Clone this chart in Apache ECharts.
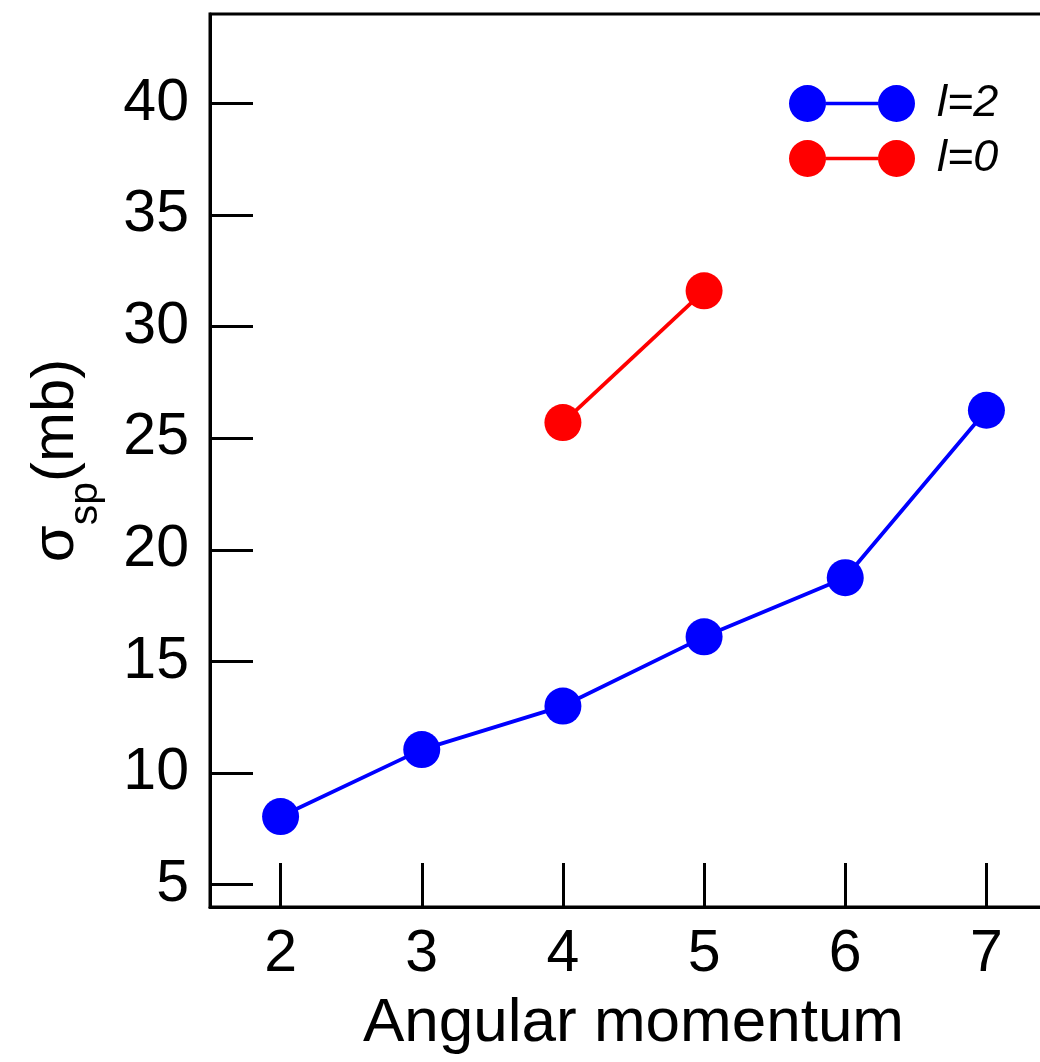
<!DOCTYPE html>
<html>
<head>
<meta charset="utf-8">
<script src="https://cdn.jsdelivr.net/npm/echarts@6/dist/echarts.min.js"></script>
<style>
  html, body { margin: 0; padding: 0; background: #fff; }
  #chart { width: 1040px; height: 1062px; }
</style>
</head>
<body>
<div id="chart"></div>
<script>
// Single-particle cross sections versus angular momentum
const momentumL2 = [2, 3, 4, 5, 6, 7];
const sigmaL2 = [8.05, 11.05, 13.0, 16.1, 18.75, 26.25];
const momentumL0 = [4, 5];
const sigmaL0 = [25.7, 31.6];
const xTicks = [2, 3, 4, 5, 6, 7];
const yTicks = [5, 10, 15, 20, 25, 30, 35, 40];
const seriesNames = ['l=2', 'l=0'];

const FONT = 'Liberation Sans, Arial, Helvetica, sans-serif';

// legend glyph: two dots joined by a bar
const legendIcon = 'path://M0,18.5 A18.5,18.5 0 1,0 37,18.5 A18.5,18.5 0 1,0 0,18.5 Z ' +
  'M89,18.5 A18.5,18.5 0 1,0 126,18.5 A18.5,18.5 0 1,0 89,18.5 Z ' +
  'M36.9,16.75 L89.1,16.75 L89.1,20.25 L36.9,20.25 Z';

const chart = echarts.init(document.getElementById('chart'), null, { renderer: 'canvas' });

const pairs = (xs, ys) => xs.map((x, i) => [x, ys[i]]);

chart.setOption({
  backgroundColor: '#fff',
  animation: false,
  grid: {
    left: 210, top: 14, width: 847, height: 893,
    outerBoundsMode: 'none',
    containLabel: false,
    show: true, borderColor: '#000', borderWidth: 3, backgroundColor: 'transparent'
  },
  legend: {
    orient: 'vertical',
    left: 789, top: 81,
    padding: 0,
    itemWidth: 126, itemHeight: 37, itemGap: 10,
    icon: legendIcon,
    data: seriesNames,
    textStyle: {
      fontFamily: FONT, fontSize: 45, fontStyle: 'italic', color: '#000',
      padding: [0, 0, 0, 17]
    }
  },
  xAxis: {
    type: 'value',
    min: 1.5, max: 7.5,
    name: 'Angular momentum',
    nameLocation: 'middle',
    nameGap: 86,
    nameTextStyle: { fontFamily: FONT, fontSize: 62, color: '#000' },
    axisLine: { show: true, onZero: false, lineStyle: { color: '#000', width: 3 } },
    axisTick: { show: true, inside: true, length: 44, customValues: xTicks, lineStyle: { color: '#000', width: 3 } },
    axisLabel: { customValues: xTicks, margin: 18, fontFamily: FONT, fontSize: 59, color: '#000' },
    splitLine: { show: false }
  },
  yAxis: {
    type: 'value',
    min: 4, max: 44,
    name: '{m|σ}{s|sp}{m|(mb)}',
    nameLocation: 'middle',
    nameGap: 104,
    nameTextStyle: {
      color: '#000',
      rich: {
        m: { fontFamily: FONT, fontSize: 60, color: '#000', lineHeight: 100, verticalAlign: 'middle' },
        s: { fontFamily: FONT, fontSize: 41, color: '#000', lineHeight: 41, verticalAlign: 'bottom' }
      }
    },
    axisLine: { show: true, onZero: false, lineStyle: { color: '#000', width: 3 } },
    axisTick: { show: true, inside: true, length: 43, customValues: yTicks, lineStyle: { color: '#000', width: 3 } },
    axisLabel: { customValues: yTicks, margin: 21, fontFamily: FONT, fontSize: 59, color: '#000' },
    splitLine: { show: false }
  },
  series: [
    {
      name: seriesNames[0],
      type: 'line',
      data: pairs(momentumL2, sigmaL2),
      symbol: 'circle', symbolSize: 37,
      itemStyle: { color: '#0000ff' },
      lineStyle: { color: '#0000ff', width: 3.8 },
      z: 3
    },
    {
      name: seriesNames[1],
      type: 'line',
      data: pairs(momentumL0, sigmaL0),
      symbol: 'circle', symbolSize: 37,
      itemStyle: { color: '#ff0000' },
      lineStyle: { color: '#ff0000', width: 3.8 },
      z: 3
    }
  ]
});
</script>
</body>
</html>
